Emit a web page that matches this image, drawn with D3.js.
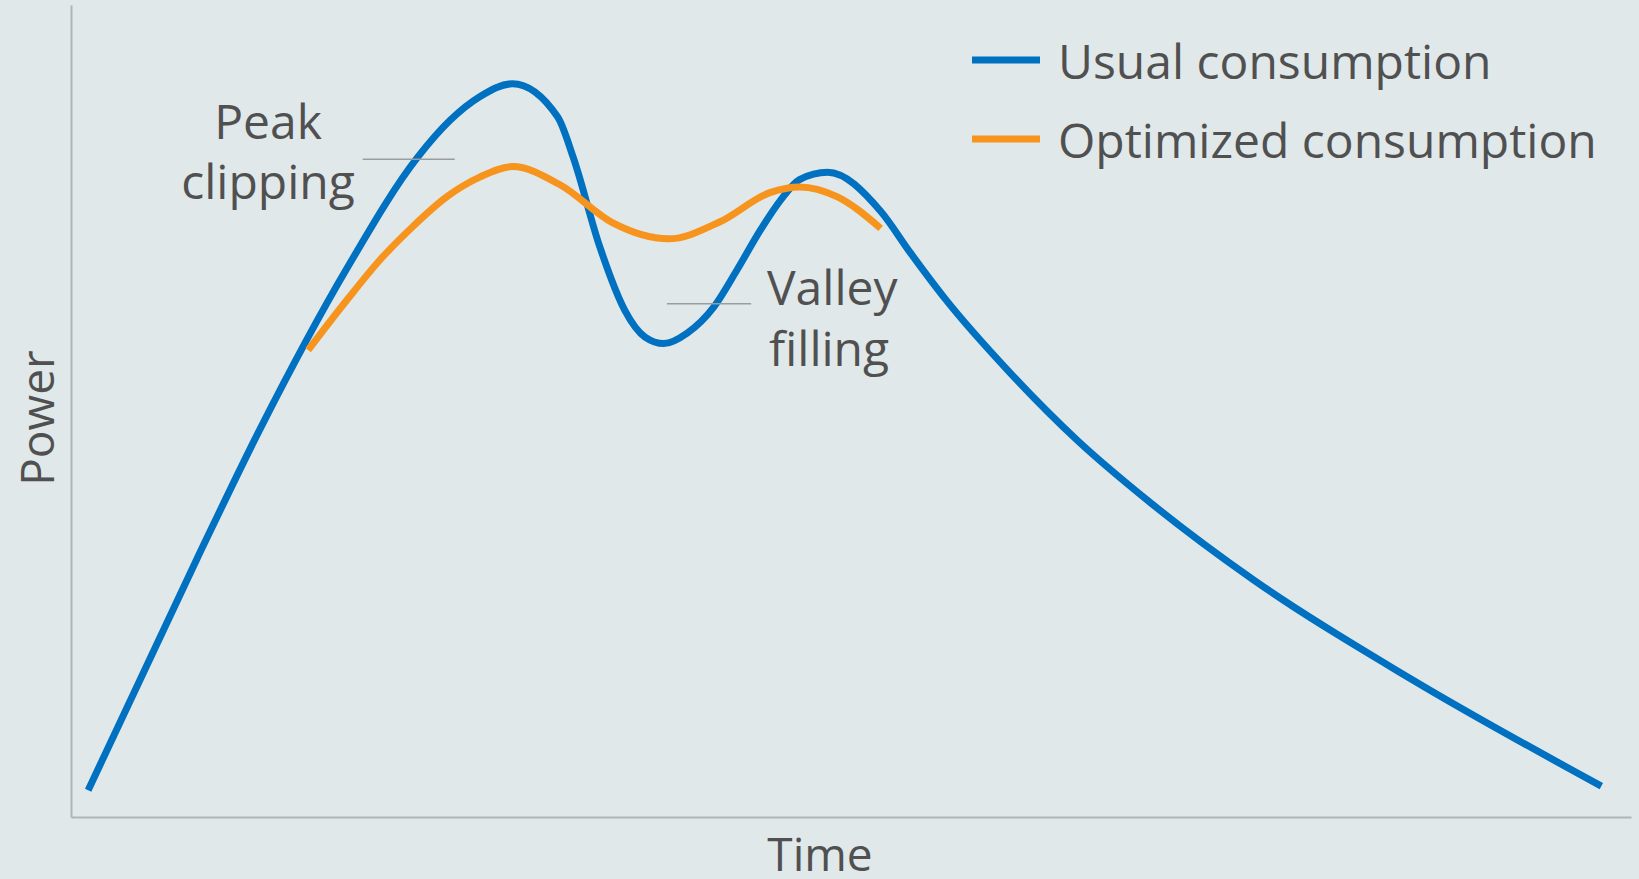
<!DOCTYPE html>
<meta charset='utf-8'>
<title>Peak clipping / valley filling</title>
<style>
  html, body { margin: 0; padding: 0; background: #e0e8ea; }
  svg { display: block; }
  text { font-family: 'Open Sans', 'Noto Sans', sans-serif; fill: #505050; }
  .axis path { stroke: #b2b4b5; stroke-width: 2px; }
  .lead { stroke: #9a9c9d; stroke-width: 1.5px; }
</style>
<body>
<script src='https://cdn.jsdelivr.net/npm/d3@7'></script>
<script>

  // time (0-100) and power (0-100)
  var usualTime  = [1.1, 8.1, 12.1, 17.7, 22.2, 24.3, 26.2, 28.3, 31.2, 32.2, 33.9, 35.5, 36.8, 38.0, 39.5, 41.2, 42.7, 44.2, 45.5, 46.7, 48.5, 51.9, 53.8, 56.0, 60.2, 64.5, 69.2, 75.8, 85.9, 98.1]
  var usualPower = [3.3, 31.9, 47.7, 67.6, 81.2, 85.8, 88.7, 90.3, 86.2, 81.2, 70.2, 62.4, 59.1, 58.3, 59.6, 62.8, 67.4, 72.3, 76.0, 78.5, 79.4, 74.6, 69.5, 63.9, 54.7, 46.4, 38.7, 29.2, 17.0, 3.8]

  var optTime  = [15.2, 17.7, 19.8, 21.9, 24.1, 26.2, 28.3, 31.4, 34.7, 38.3, 41.6, 44.8, 46.7, 49.1, 51.9]
  var optPower = [57.5, 63.7, 68.6, 72.7, 76.4, 78.8, 80.1, 77.8, 73.2, 71.2, 73.3, 76.9, 77.6, 76.4, 72.5]

  var seriesNames  = ['Usual consumption', 'Optimized consumption']
  var seriesColors = ['#0070c0', '#f7941d']

  var width = 1639,
  height = 879,
  margin = {top: 5, right: 8, bottom: 62, left: 71}

  var svg = d3.select('body')
  .append('svg')
  .attr('width', width)
  .attr('height', height)

  var x = d3.scaleLinear()
  .domain([0, 100])
  .range([margin.left, width - margin.right])

  var y = d3.scaleLinear()
  .domain([0, 100])
  .range([height - margin.bottom, margin.top])

  // bare axes, no ticks
  svg.append('g')
  .attr('class', 'axis')
  .attr('transform', 'translate(0,' + y(0) + ')')
  .call(d3.axisBottom(x).ticks(0).tickSizeOuter(0))

  svg.append('g')
  .attr('class', 'axis')
  .attr('transform', 'translate(' + x(0) + ',0)')
  .call(d3.axisLeft(y).ticks(0).tickSizeOuter(0))

  svg.append('text')
  .attr('x', 820)
  .attr('y', height - 8)
  .attr('text-anchor', 'middle')
  .style('font-size', '46px')
  .text('Time')

  svg.append('text')
  .attr('transform', 'translate(54,' + ((y(0) + y(100)) / 2 + 7) + ') rotate(-90)')
  .attr('text-anchor', 'middle')
  .style('font-size', '46px')
  .text('Power')

  var line = d3.line()
  .x(function(d) { return x(d[0]) })
  .y(function(d) { return y(d[1]) })
  .curve(d3.curveMonotoneX)

  var series = [d3.zip(usualTime, usualPower), d3.zip(optTime, optPower)]

  svg.selectAll('path.series')
  .data(series)
  .enter()
  .append('path')
  .attr('class', 'series')
  .attr('d', line)
  .attr('fill', 'none')
  .attr('stroke', function(d, i) { return seriesColors[i] })
  .attr('stroke-width', 7)

  /* ------- ANNOTATIONS -------*/
  svg.append('line').attr('class', 'lead')
  .attr('x1', x(18.7)).attr('x2', x(24.6))
  .attr('y1', y(81)).attr('y2', y(81))

  svg.append('text')
  .attr('x', 268).attr('y', 139)
  .attr('text-anchor', 'middle')
  .style('font-size', '48px')
  .text('Peak')

  svg.append('text')
  .attr('x', 268).attr('y', 199)
  .attr('text-anchor', 'middle')
  .style('font-size', '48px')
  .text('clipping')

  svg.append('line').attr('class', 'lead')
  .attr('x1', x(38.2)).attr('x2', x(43.6))
  .attr('y1', y(63.2)).attr('y2', y(63.2))

  svg.append('text')
  .attr('x', 767).attr('y', 305)
  .style('font-size', '48px')
  .text('Valley')

  svg.append('text')
  .attr('x', 769).attr('y', 366)
  .style('font-size', '48px')
  .text('filling')

  /* ------- LEGEND -------*/
  var legend = svg.selectAll('g.legend')
  .data(seriesNames)
  .enter()
  .append('g')
  .attr('class', 'legend')
  .attr('transform', function(d, i) { return 'translate(972,' + (60 + i * 79) + ')' })

  legend.append('line')
  .attr('x1', 0).attr('x2', 68)
  .attr('stroke', function(d, i) { return seriesColors[i] })
  .attr('stroke-width', 7)

  legend.append('text')
  .attr('x', 86)
  .attr('y', 19)
  .style('font-size', '48px')
  .text(function(d) { return d })

</script>
</body>
